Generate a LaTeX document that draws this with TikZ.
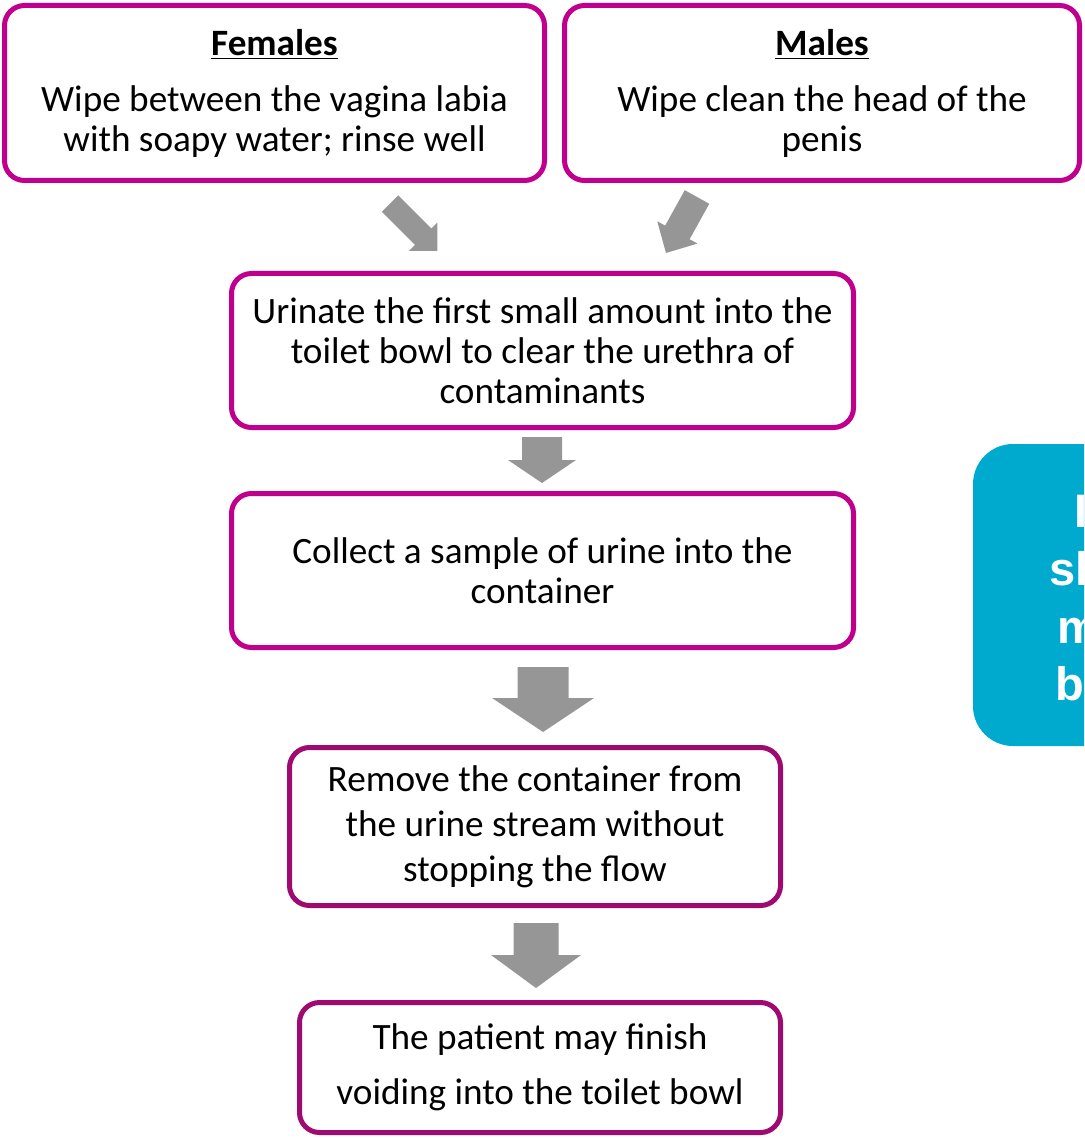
\documentclass[tikz,border=0pt]{standalone}
\usepackage{fontspec}
\setmainfont{Carlito}
\newfontfamily\notefont{Liberation Sans}
\definecolor{boxmagenta}{RGB}{192,0,140}
\definecolor{boxplum}{RGB}{158,10,112}
\definecolor{arrowgray}{RGB}{150,150,150}
\definecolor{notecyan}{RGB}{0,169,206}
\tikzset{
  flowbox/.style={draw=boxmagenta, line width=2.5pt, rounded corners=10pt, align=center,
    inner sep=0pt, font=\fontsize{18.6}{20}\selectfont},
  blockarrow/.style={fill=arrowgray},
}
% back mid, angle, shaft length, shaft half, head half, head length
\newcommand{\bigarrow}[6]{%
  \fill[blockarrow, shift={#1}, rotate=#2] (0,#4) -- (#3,#4) -- (#3,#5) -- ({#3+#6},0)
    -- (#3,-#5) -- (#3,-#4) -- (0,-#4) -- cycle;}
\begin{document}
\begin{tikzpicture}[x=0.5pt,y=-0.5pt]
  \useasboundingbox (0,0) rectangle (1084,1138);
  % note box, cut at the right edge
  \begin{scope}
    \clip (0,0) rectangle (1084,1138);
    \fill[notecyan, rounded corners=20pt] (973,444) rectangle (1260,746);
    \foreach \txt/\x/\y [count=\i] in {I/1074/527,sh/1049/585,m/1057/643,b/1055/700}
      \node[anchor=base west, inner sep=0pt, text=white,
        font=\notefont\bfseries\fontsize{23.5}{28}\selectfont] (note\i) at (\x,\y) {\txt};
  \end{scope}
  \node[flowbox, minimum width=270pt, minimum height=87.5pt] (females) at (274.5,93)
    {\underline{\textbf{Females}}\\[8pt] Wipe between the vagina labia\\ with soapy water; rinse well};
  \node[flowbox, minimum width=257.5pt, minimum height=87.5pt] (males) at (822,93)
    {\underline{\textbf{Males}}\\[8pt] Wipe clean the head of the\\ penis};
  \node[flowbox, minimum width=311pt, minimum height=77pt] (urinate) at (542.5,350.5)
    {Urinate the first small amount into the\\ toilet bowl to clear the urethra of\\ contaminants};
  \node[flowbox, minimum width=311pt, minimum height=77pt] (collect) at (542.5,570.5)
    {Collect a sample of urine into the\\ container};
  \node[flowbox, draw=boxplum, minimum width=245.5pt, minimum height=79pt,
    font=\fontsize{18.6}{22.5}\selectfont] (remove) at (535,826.5)
    {Remove the container from\\ the urine stream without\\ stopping the flow};
  \node[flowbox, draw=boxplum, minimum width=240.5pt, minimum height=65pt,
    font=\fontsize{18.6}{27.5}\selectfont] (finish) at (540,1067.5)
    {The patient may finish\\ voiding into the toilet bowl};
  % arrows
  \bigarrow{(390,203.5)}{-45}{47}{11.5}{20}{20}
  \bigarrow{(697,197)}{-119}{40.5}{14}{23}{23.5}
  \bigarrow{(542,437)}{-90}{23}{20}{34}{23}
  \bigarrow{(543,667)}{-90}{31}{25.5}{51}{34}
  \bigarrow{(536,923)}{-90}{32}{22.5}{45}{33}
\end{tikzpicture}
\end{document}
